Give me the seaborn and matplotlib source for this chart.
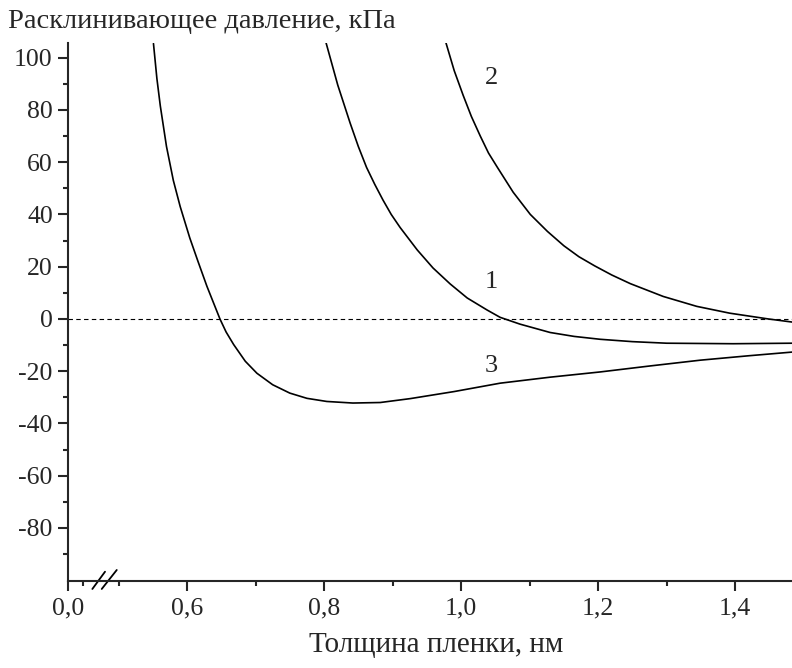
import matplotlib
matplotlib.use("Agg")
import matplotlib.pyplot as plt
import pandas as pd
import seaborn as sns

###### данные
x1 = [0.803, 0.820, 0.838, 0.850, 0.862, 0.874, 0.886, 0.898, 0.911, 0.936, 0.959, 0.984, 1.009, 1.038, 1.057, 1.086, 1.130, 1.165, 1.203, 1.250, 1.300, 1.397, 1.483]
y1 = [105.6, 89.5, 75, 66, 58, 51.5, 45.5, 40, 35, 26.4, 19.5, 13.4, 8, 3.4, 0.6, -2.0, -5.2, -6.7, -7.8, -8.7, -9.3, -9.5, -9.3]

x2 = [0.978, 0.990, 1.003, 1.015, 1.028, 1.040, 1.053, 1.076, 1.101, 1.126, 1.150, 1.172, 1.195, 1.220, 1.247, 1.295, 1.344, 1.392, 1.448, 1.483]
y2 = [105.6, 95, 85.6, 77.5, 70, 63.5, 58, 48.5, 40, 33.5, 28, 23.8, 20.3, 16.8, 13.5, 8.6, 4.8, 2.2, 0, -1.2]

x3 = [0.551, 0.556, 0.561, 0.570, 0.580, 0.590, 0.604, 0.616, 0.629, 0.648, 0.657, 0.668, 0.685, 0.702, 0.725, 0.750, 0.775, 0.804, 0.842, 0.882, 0.926, 0.990, 1.057, 1.130, 1.203, 1.276, 1.349, 1.420, 1.483]
y3 = [105.4, 92, 81.5, 66, 53, 43, 31, 22, 12.5, 0.0, -5.0, -9.8, -16.2, -20.8, -25.2, -28.4, -30.4, -31.6, -32.2, -32.0, -30.5, -27.8, -24.6, -22.3, -20.3, -18.0, -15.8, -14.1, -12.7]

curve_names = ["1", "2", "3"]
label_x = [1.044, 1.045, 1.044]
label_y = [14.1, 92.2, -18.0]

x_ticks = [0.6, 0.8, 1.0, 1.2, 1.4]
x_tick_labels = ["0,6", "0,8", "1,0", "1,2", "1,4"]
y_ticks = [-80, -60, -40, -20, 0, 20, 40, 60, 80, 100]

xlabel = "Толщина пленки, нм"
ylabel = "Расклинивающее давление, кПа"

###### таблица для seaborn
df = pd.concat([
    pd.DataFrame({"x": x1, "y": y1, "curve": "1"}),
    pd.DataFrame({"x": x2, "y": y2, "curve": "2"}),
    pd.DataFrame({"x": x3, "y": y3, "curve": "3"}),
], ignore_index=True)

sns.set_style("ticks")
plt.rcParams["font.family"] = ["Liberation Serif", "DejaVu Serif"]
plt.rcParams["axes.linewidth"] = 1.5
plt.rcParams["axes.unicode_minus"] = False

fig = plt.figure(figsize=(7.92, 6.68), dpi=100)
ax = fig.add_axes([0.0859, 0.1307, 0.9141, 0.8049])

sns.lineplot(data=df, x="x", y="y", hue="curve", units="curve", estimator=None,
             palette=["black"] * 3, legend=False, linewidth=1.2, ax=ax)

ax.axhline(0, color="black", linewidth=0.8, linestyle=(0, (4, 3)))

# ось x с разрывом: левый кусок начинается с 0,0
x0 = 0.4263
ax.set_xlim(x0, 1.483)
ax.set_ylim(-100.2, 105.6)

ax.set_xticks([x0] + x_ticks)
ax.set_xticklabels(["0,0"] + x_tick_labels)
ax.set_xticks([x0 + 0.022, 0.5, 0.7, 0.9, 1.1, 1.3], minor=True)
ax.set_yticks(y_ticks)
ax.set_yticks([-90, -70, -50, -30, -10, 10, 30, 50, 70, 90], minor=True)

ax.tick_params(which="major", direction="out", length=7, width=1.5, labelsize=18.5, pad=4)
ax.tick_params(which="minor", direction="out", length=3.5, width=1.5)
ax.tick_params(axis="x", which="major", pad=5)

sns.despine(ax=ax, top=True, right=True)
ax.set_xlabel("")
ax.set_ylabel("")

# значок разрыва
trans = ax.get_xaxis_transform()
for xa, xb, yb in [(0.4618, 0.4803, 0.0167), (0.4755, 0.4974, 0.0199)]:
    ax.plot([xa, xb], [-0.0154, yb], color="black", linewidth=1.3,
            transform=trans, clip_on=False)

for name, lx, ly in zip(curve_names, label_x, label_y):
    ax.text(lx, ly, name, fontsize=19, ha="center", va="center")

fig.text(8 / 792, 1 - 22 / 668, ylabel, fontsize=20.5, ha="left", va="center")
fig.text(436 / 792, 1 - 645 / 668, xlabel, fontsize=21, ha="center", va="center")

fig.savefig("out.png", dpi=100)
